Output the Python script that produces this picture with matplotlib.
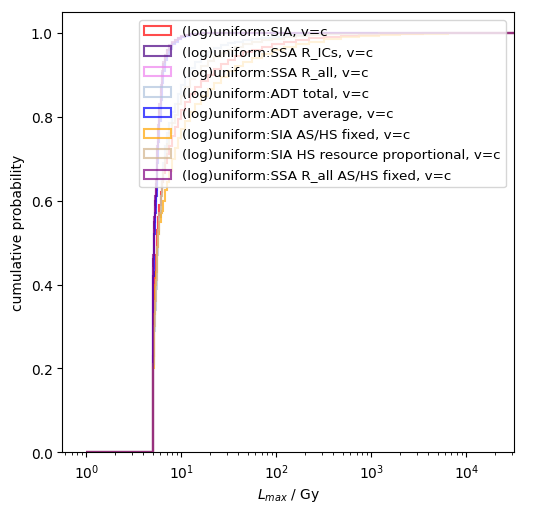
import numpy as np
import matplotlib
matplotlib.use("Agg")
import matplotlib.pyplot as plt

# bin edges of the cumulative histograms (Gy)
edges = [1.0, 5.0, 5.05, 5.1, 5.15, 5.2, 5.3, 5.4, 5.5, 5.6, 5.75, 5.9, 6.1, 6.3,
         6.5, 6.8, 7.1, 7.5, 8, 8.5, 9.2, 10, 11, 12.5, 14, 16, 19, 22, 26, 31,
         37, 45, 55, 70, 90, 120, 160, 220, 320, 480, 750, 1200, 2000, 3500,
         6500, 12000, 100000]

labels = ["(log)uniform:SIA, v=c",
          "(log)uniform:SSA R_ICs, v=c",
          "(log)uniform:SSA R_all, v=c",
          "(log)uniform:ADT total, v=c",
          "(log)uniform:ADT average, v=c",
          "(log)uniform:SIA AS/HS fixed, v=c",
          "(log)uniform:SIA HS resource proportional, v=c",
          "(log)uniform:SSA R_all AS/HS fixed, v=c"]
colors = ["red", "indigo", "violet", "lightsteelblue", "blue", "orange", "tan", "purple"]

# cumulative probability in each bin
sia = [0, 0.05, 0.13, 0.23, 0.31, 0.36, 0.43, 0.47, 0.50, 0.53, 0.56, 0.59, 0.62,
       0.645, 0.665, 0.69, 0.71, 0.73, 0.755, 0.775, 0.795, 0.815, 0.835, 0.855,
       0.87, 0.885, 0.9, 0.913, 0.925, 0.935, 0.945, 0.953, 0.96, 0.967, 0.973,
       0.978, 0.983, 0.987, 0.99, 0.993, 0.995, 0.997, 0.998, 0.999, 1.0, 1.0]
ssa_rics = [0, 0.30, 0.40, 0.46, 0.51, 0.55, 0.60, 0.64, 0.68, 0.72, 0.77, 0.82,
            0.87, 0.905, 0.925, 0.945, 0.958, 0.968, 0.976, 0.982, 0.987, 0.991,
            0.994, 0.996, 0.998, 0.999] + [1.0] * 20
ssa_rall = [0, 0.27, 0.37, 0.44, 0.49, 0.53, 0.585, 0.625, 0.665, 0.705, 0.755,
            0.805, 0.855, 0.893, 0.918, 0.94, 0.955, 0.966, 0.975, 0.981, 0.986,
            0.99, 0.993, 0.996, 0.998, 0.999] + [1.0] * 20
adt_total = [0, 0.10, 0.16, 0.21, 0.25, 0.29, 0.34, 0.39, 0.43, 0.47, 0.52, 0.56,
             0.61, 0.65, 0.69, 0.73, 0.76, 0.785, 0.81, 0.83, 0.855, 0.875, 0.895,
             0.915, 0.93, 0.945, 0.955, 0.963, 0.97, 0.975, 0.979, 0.982, 0.985,
             0.988, 0.991, 0.993, 0.995, 0.997, 0.998, 0.999, 1, 1, 1, 1, 1, 1]
adt_avg = [0, 0.25, 0.35, 0.42, 0.47, 0.52, 0.57, 0.61, 0.65, 0.69, 0.74, 0.79,
           0.84, 0.88, 0.91, 0.935, 0.95, 0.962, 0.972, 0.979, 0.985, 0.99, 0.993,
           0.996, 0.998, 0.999] + [1.0] * 20
sia_fixed = [0, 0.03, 0.10, 0.20, 0.28, 0.33, 0.40, 0.43, 0.46, 0.49, 0.52, 0.55,
             0.57, 0.575, 0.60, 0.625, 0.645, 0.67, 0.70, 0.725, 0.75, 0.77, 0.79,
             0.81, 0.83, 0.85, 0.865, 0.88, 0.895, 0.908, 0.92, 0.93, 0.94, 0.95,
             0.958, 0.966, 0.973, 0.979, 0.985, 0.989, 0.992, 0.994, 0.996, 0.998,
             0.999, 1.0]
sia_hs = [0, 0.08, 0.15, 0.21, 0.26, 0.30, 0.36, 0.41, 0.45, 0.49, 0.53, 0.57,
          0.61, 0.645, 0.675, 0.705, 0.735, 0.76, 0.785, 0.805, 0.83, 0.85, 0.87,
          0.89, 0.905, 0.92, 0.932, 0.943, 0.952, 0.96, 0.967, 0.973, 0.978, 0.982,
          0.986, 0.989, 0.992, 0.994, 0.996, 0.997, 0.998, 0.999, 1, 1, 1, 1]
ssa_rall_fixed = [0, 0.32, 0.41, 0.47, 0.52, 0.56, 0.61, 0.65, 0.69, 0.73, 0.78,
                  0.83, 0.875, 0.91, 0.93, 0.948, 0.96, 0.97, 0.977, 0.983, 0.988,
                  0.992, 0.995, 0.997, 0.998, 0.999] + [1.0] * 20

series = [sia, ssa_rics, ssa_rall, adt_total, adt_avg, sia_fixed, sia_hs, ssa_rall_fixed]

fig = plt.figure(figsize=(5.47, 5.10), dpi=100)
ax = fig.add_axes([0.114, 0.111, 0.826, 0.864])

for vals, c, lab in zip(series, colors, labels):
    ax.hist(edges[:-1], bins=edges, weights=vals, histtype="step",
            color=c, alpha=0.7, lw=1.5, label=lab)

ax.set_xscale("log")
ax.set_xlim(0.56, 3.2e4)
ax.set_ylim(0, 1.05)
ax.set_xlabel("$L_{max}$ / Gy")
ax.set_ylabel("cumulative probability")
ax.legend(loc="upper right", fontsize=9.7, labelspacing=0.56, borderaxespad=0.6)

fig.savefig("out.png", dpi=100)
